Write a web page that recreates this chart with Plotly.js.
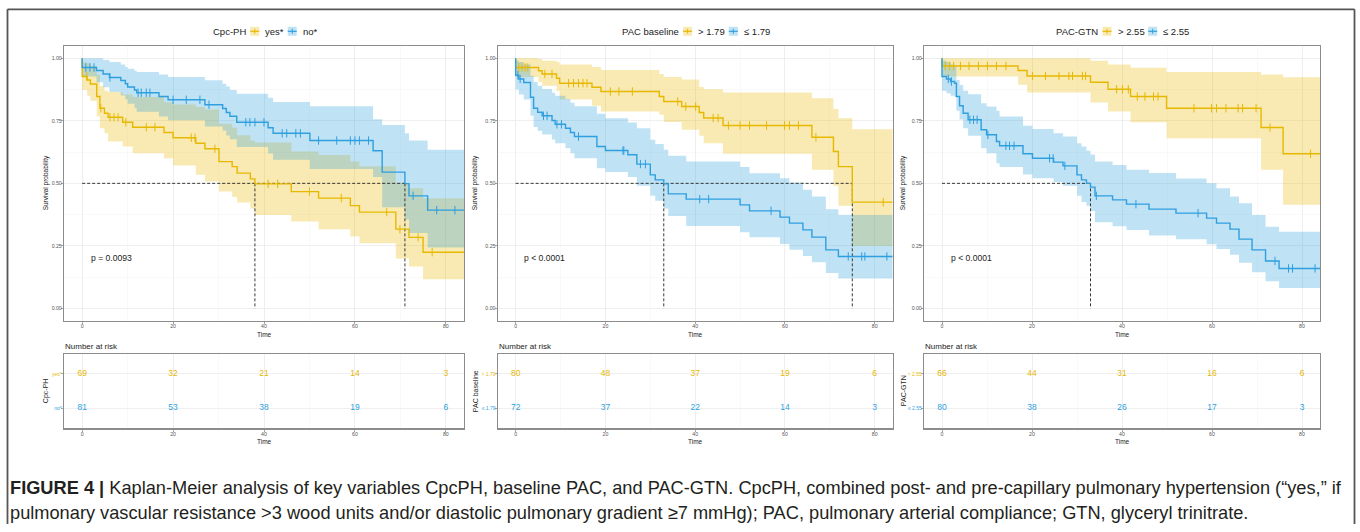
<!DOCTYPE html>
<html><head><meta charset="utf-8">
<script src="https://cdn.plot.ly/plotly-3.0.1.min.js"></script>
<style>html,body{margin:0;padding:0;background:#fff}#chart{width:1360px;height:532px}</style>
</head><body><div id="chart"></div>
<script>
// ---------------- DATA ----------------
const panelVars = ['Cpc-PH', 'PAC baseline', 'PAC-GTN'];
const groupLabels = [['yes*', 'no*'], ['> 1.79', '\u2264 1.79'], ['> 2.55', '\u2264 2.55']];
const pValues = ['p = 0.0093', 'p < 0.0001', 'p < 0.0001'];
const xTicks = [0, 20, 40, 60, 80];
const yTicks = [0, 0.25, 0.5, 0.75, 1];
const riskTimes = [0, 20, 40, 60, 80];

// Panel 1: Cpc-PH
const cpcYesTime  = [0, 0, 1.1, 1.8, 3.2, 3.9, 4.9, 5.7, 8.9, 11.1, 18, 20, 25, 27, 30.1, 33, 34.1, 37, 38, 46, 52, 59, 61, 69, 71.9, 75];
const cpcYesSurv  = [1, 0.927, 0.913, 0.897, 0.847, 0.800, 0.780, 0.764, 0.744, 0.724, 0.703, 0.682, 0.660, 0.638, 0.587, 0.567, 0.541, 0.518, 0.498, 0.467, 0.441, 0.411, 0.385, 0.317, 0.284, 0.225];
const cpcYesUpper = [1, 0.984, 0.980, 0.969, 0.935, 0.889, 0.870, 0.865, 0.855, 0.845, 0.824, 0.815, 0.805, 0.795, 0.738, 0.722, 0.692, 0.671, 0.663, 0.627, 0.613, 0.587, 0.568, 0.502, 0.480, 0.440];
const cpcYesLower = [1, 0.873, 0.850, 0.830, 0.767, 0.720, 0.700, 0.667, 0.647, 0.620, 0.600, 0.571, 0.534, 0.507, 0.467, 0.445, 0.423, 0.400, 0.374, 0.348, 0.317, 0.288, 0.261, 0.200, 0.168, 0.117];
const cpcYesCensor = [1, 4.1, 6.1, 7, 7.9, 9.6, 14.1, 16, 24, 24.8, 29.2, 40.9, 43, 50, 57, 67, 69.9, 73.9, 77];

const cpcNoTime  = [0, 0, 3.15, 4.6, 6, 8.5, 9.5, 10, 11.5, 12, 16.9, 18.9, 27, 30.9, 31.7, 32.5, 34, 40.9, 42, 50.1, 64, 66, 71, 71.9, 76];
const cpcNoSurv  = [1, 0.963, 0.951, 0.937, 0.923, 0.911, 0.898, 0.885, 0.873, 0.862, 0.847, 0.834, 0.814, 0.799, 0.783, 0.768, 0.744, 0.722, 0.700, 0.671, 0.630, 0.545, 0.499, 0.450, 0.393];
const cpcNoUpper = [1, 1, 1, 0.993, 0.985, 0.975, 0.965, 0.958, 0.950, 0.945, 0.935, 0.925, 0.912, 0.898, 0.887, 0.873, 0.858, 0.842, 0.825, 0.808, 0.756, 0.733, 0.700, 0.671, 0.634];
const cpcNoLower = [1, 0.927, 0.904, 0.884, 0.865, 0.851, 0.836, 0.818, 0.802, 0.786, 0.767, 0.752, 0.727, 0.711, 0.691, 0.676, 0.645, 0.619, 0.594, 0.557, 0.525, 0.405, 0.356, 0.302, 0.244];
const cpcNoCensor = [0.8, 1.7, 2.6, 6.1, 12.3, 13, 14.1, 14.9, 20, 22.9, 25.9, 27.9, 36, 36.9, 38, 40, 44, 45, 47, 48, 52, 56, 59, 60, 61, 63, 72.8, 78, 82];
const cpcMedians = [38, 71];
const cpcYesRisk = [69, 32, 21, 14, 3];
const cpcNoRisk  = [81, 53, 38, 19, 6];

// Panel 2: PAC baseline
const pacBaseHighTime  = [0, 0, 5.1, 5.9, 9.1, 9.8, 17, 19, 32, 33, 37, 40.9, 41.9, 46.2, 66, 70.8, 71.9, 75];
const pacBaseHighSurv  = [1, 0.963, 0.950, 0.937, 0.920, 0.900, 0.884, 0.867, 0.847, 0.827, 0.807, 0.783, 0.761, 0.731, 0.684, 0.627, 0.567, 0.425];
const pacBaseHighUpper = [1, 1, 0.997, 0.990, 0.985, 0.975, 0.965, 0.953, 0.937, 0.925, 0.915, 0.885, 0.876, 0.863, 0.840, 0.797, 0.760, 0.716];
const pacBaseHighLower = [1, 0.925, 0.905, 0.890, 0.870, 0.835, 0.810, 0.787, 0.774, 0.745, 0.714, 0.690, 0.660, 0.618, 0.554, 0.490, 0.410, 0.250];
const pacBaseHighCensor = [0.7, 1.4, 2.1, 2.7, 6.5, 8.1, 11.8, 12.9, 14, 15, 15.9, 21.1, 23, 26, 36.1, 37.9, 40.1, 44, 45.1, 47.4, 50, 52.1, 55.9, 59.9, 61, 63, 66.9, 81.9];

const pacBaseLowTime  = [0, 0, 0.7, 1.8, 3.3, 4, 4.9, 5.9, 8.1, 8.8, 11.1, 12.2, 13.1, 18.1, 20, 25, 27, 30, 31.1, 33, 34, 38, 50, 52.1, 58.9, 61, 64, 66, 69.1, 71.9];
const pacBaseLowSurv  = [1, 0.932, 0.917, 0.903, 0.844, 0.800, 0.784, 0.770, 0.751, 0.736, 0.720, 0.703, 0.687, 0.647, 0.631, 0.614, 0.577, 0.534, 0.514, 0.498, 0.458, 0.437, 0.414, 0.390, 0.365, 0.341, 0.314, 0.285, 0.234, 0.208];
const pacBaseLowUpper = [1, 0.990, 0.985, 0.975, 0.930, 0.905, 0.890, 0.877, 0.862, 0.850, 0.837, 0.822, 0.808, 0.778, 0.760, 0.743, 0.720, 0.674, 0.657, 0.634, 0.610, 0.587, 0.565, 0.540, 0.520, 0.503, 0.474, 0.447, 0.397, 0.374];
const pacBaseLowLower = [1, 0.875, 0.855, 0.835, 0.770, 0.725, 0.710, 0.695, 0.675, 0.660, 0.640, 0.620, 0.600, 0.560, 0.545, 0.525, 0.490, 0.450, 0.430, 0.400, 0.370, 0.330, 0.305, 0.285, 0.258, 0.235, 0.210, 0.185, 0.142, 0.120];
const pacBaseLowCensor = [0.5, 1.0, 6.2, 7.0, 9.2, 10.2, 14, 23.9, 24.1, 27.8, 28.9, 41, 43, 56.9, 74.1, 77.1, 77.8, 82.7];
const pacBaseMedians = [75, 33];
const pacBaseHighRisk = [80, 48, 37, 19, 6];
const pacBaseLowRisk  = [72, 37, 22, 14, 3];

// Panel 3: PAC-GTN
const pacGtnHighTime  = [0, 0, 16.9, 18.9, 33, 36.9, 41.9, 49.9, 70.9, 75.8];
const pacGtnHighSurv  = [1, 0.969, 0.951, 0.929, 0.904, 0.876, 0.847, 0.800, 0.723, 0.618];
const pacGtnHighUpper = [1, 1, 1, 1, 0.990, 0.975, 0.962, 0.945, 0.935, 0.924];
const pacGtnHighLower = [1, 0.927, 0.894, 0.863, 0.823, 0.787, 0.744, 0.680, 0.554, 0.414];
const pacGtnHighCensor = [0.7, 1.7, 2.6, 4.1, 6, 8.1, 10.1, 12.1, 14.2, 20.1, 23, 26, 28.2, 29, 31.2, 31.9, 38.8, 40.1, 41.4, 43.4, 45.1, 47, 48, 56, 59.9, 61, 63.1, 65.8, 66.8, 69.8, 72.9, 81.9];

const pacGtnLowTime  = [0, 0, 1, 1.9, 2.8, 3.2, 3.9, 4.7, 5.8, 8.7, 9.9, 12.1, 12.8, 18, 20.1, 24.8, 26.9, 30, 31, 32.1, 33, 34, 37.9, 41, 46, 52, 58.8, 61, 64, 66, 68.9, 71.9, 74.9];
const pacGtnLowSurv  = [1, 0.927, 0.917, 0.907, 0.900, 0.847, 0.810, 0.780, 0.754, 0.714, 0.694, 0.667, 0.650, 0.618, 0.600, 0.585, 0.570, 0.534, 0.514, 0.500, 0.485, 0.450, 0.434, 0.417, 0.397, 0.381, 0.361, 0.341, 0.317, 0.277, 0.234, 0.190, 0.160];
const pacGtnLowUpper = [1, 0.990, 0.985, 0.975, 0.967, 0.913, 0.893, 0.870, 0.856, 0.820, 0.807, 0.790, 0.767, 0.730, 0.717, 0.700, 0.687, 0.660, 0.647, 0.630, 0.615, 0.587, 0.573, 0.554, 0.541, 0.519, 0.500, 0.480, 0.447, 0.420, 0.374, 0.327, 0.307];
const pacGtnLowLower = [1, 0.870, 0.860, 0.850, 0.845, 0.790, 0.755, 0.720, 0.690, 0.640, 0.620, 0.580, 0.565, 0.535, 0.520, 0.505, 0.490, 0.450, 0.425, 0.410, 0.390, 0.345, 0.329, 0.314, 0.292, 0.277, 0.257, 0.238, 0.215, 0.183, 0.145, 0.109, 0.082];
const pacGtnLowCensor = [1.4, 2.1, 6.2, 7, 7.8, 10.2, 14.2, 15, 16, 23.9, 24.7, 27.3, 34.3, 43.1, 56.9, 74, 77, 77.9, 82.9];
const pacGtnMedians = [33];
const pacGtnHighRisk = [66, 44, 31, 16, 6];
const pacGtnLowRisk  = [80, 38, 26, 17, 3];

const captionLine1 = '<b>FIGURE 4 |</b> Kaplan-Meier analysis of key variables CpcPH, baseline PAC, and PAC-GTN. CpcPH, combined post- and pre-capillary pulmonary hypertension (\u201cyes,\u201d if';
const captionLine2 = 'pulmonary vascular resistance >3 wood units and/or diastolic pulmonary gradient \u22657 mmHg); PAC, pulmonary arterial compliance; GTN, glyceryl trinitrate.';

// ---------------- STYLE / LAYOUT ----------------
const FONT = '"Liberation Sans", Arial, sans-serif';
const YELLOW = '#E7B800', BLUE = '#2E9FDF';
const YELLOW_FILL = 'rgba(231,184,0,0.3)', BLUE_FILL = 'rgba(46,159,223,0.3)';
const W = 1360, H = 532;
const px = x => x / W;
const py = y => 1 - y / H;
const panelsX = [[64, 464], [497.7, 892.7], [924, 1320]];
const kmY = [45.7, 321];
const riskY = [354, 428.3];
const yTitleX = [46, 475, 903];
const X_END = 84;
const X_RANGE = [-4, 84];

const panels = [
  {curves: [
    {t: cpcYesTime, s: cpcYesSurv, u: cpcYesUpper, l: cpcYesLower, c: cpcYesCensor, color: YELLOW, fill: YELLOW_FILL},
    {t: cpcNoTime, s: cpcNoSurv, u: cpcNoUpper, l: cpcNoLower, c: cpcNoCensor, color: BLUE, fill: BLUE_FILL}],
   medians: cpcMedians, risk: [cpcYesRisk, cpcNoRisk]},
  {curves: [
    {t: pacBaseHighTime, s: pacBaseHighSurv, u: pacBaseHighUpper, l: pacBaseHighLower, c: pacBaseHighCensor, color: YELLOW, fill: YELLOW_FILL},
    {t: pacBaseLowTime, s: pacBaseLowSurv, u: pacBaseLowUpper, l: pacBaseLowLower, c: pacBaseLowCensor, color: BLUE, fill: BLUE_FILL}],
   medians: pacBaseMedians, risk: [pacBaseHighRisk, pacBaseLowRisk]},
  {curves: [
    {t: pacGtnHighTime, s: pacGtnHighSurv, u: pacGtnHighUpper, l: pacGtnHighLower, c: pacGtnHighCensor, color: YELLOW, fill: YELLOW_FILL},
    {t: pacGtnLowTime, s: pacGtnLowSurv, u: pacGtnLowUpper, l: pacGtnLowLower, c: pacGtnLowCensor, color: BLUE, fill: BLUE_FILL}],
   medians: pacGtnMedians, risk: [pacGtnHighRisk, pacGtnLowRisk]}
];

function stepValue(times, vals, t) {
  let v = vals[0];
  for (let i = 0; i < times.length; i++) { if (times[i] <= t) v = vals[i]; }
  return v;
}
const ext = (arr, last) => arr.concat([last]);

const traces = [];
const layout = {
  width: W, height: H, margin: {l: 0, r: 0, t: 0, b: 0},
  paper_bgcolor: '#fff', plot_bgcolor: '#fff', showlegend: false,
  font: {family: FONT, color: '#222'},
  annotations: [], shapes: []
};

const axisCommon = {
  showline: true, mirror: true, linecolor: '#8c8c8c', linewidth: 1.2,
  ticks: 'outside', ticklen: 2, tickwidth: 0.8, tickcolor: '#8c8c8c', ticklabelstandoff: -2,
  zeroline: false, showgrid: true, gridcolor: '#ebebeb', gridwidth: 0.8,
  tickfont: {size: 5.2, color: '#555', family: FONT}, fixedrange: true
};

panels.forEach((p, i) => {
  const s = i === 0 ? '' : String(i + 1);
  const rs = String(i + 4);
  const xa = 'x' + s, ya = 'y' + s, rxa = 'x' + rs, rya = 'y' + rs;
  // bands
  p.curves.forEach(c => {
    const tx = ext(c.t, X_END);
    traces.push({x: tx, y: ext(c.l, c.l[c.l.length - 1]), xaxis: xa, yaxis: ya, mode: 'lines',
      line: {width: 0, shape: 'hv', color: c.fill}, hoverinfo: 'skip'});
    traces.push({x: tx, y: ext(c.u, c.u[c.u.length - 1]), xaxis: xa, yaxis: ya, mode: 'lines',
      line: {width: 0, shape: 'hv', color: c.fill}, fill: 'tonexty', fillcolor: c.fill, hoverinfo: 'skip'});
  });
  // median lines
  const mx = Math.max(...p.medians);
  const dx = [0, mx], dy = [0.5, 0.5];
  p.medians.forEach(m => { dx.push(null, m, m); dy.push(null, 0.5, 0); });
  traces.push({x: dx, y: dy, xaxis: xa, yaxis: ya, mode: 'lines',
    line: {color: '#222', width: 0.9, dash: '3px,2px'}, hoverinfo: 'skip'});
  // curves + censor marks
  p.curves.forEach(c => {
    traces.push({x: ext(c.t, X_END), y: ext(c.s, c.s[c.s.length - 1]), xaxis: xa, yaxis: ya, mode: 'lines',
      line: {color: c.color, width: 1.4, shape: 'hv'}});
    traces.push({x: c.c, y: c.c.map(t => stepValue(c.t, c.s, t)), xaxis: xa, yaxis: ya, mode: 'markers',
      marker: {symbol: 'line-ns', size: 6, line: {color: c.color, width: 1}}});
  });
  // risk table
  p.curves.forEach((c, k) => {
    traces.push({x: riskTimes, y: riskTimes.map(() => 2 - k), xaxis: rxa, yaxis: rya, mode: 'text',
      text: p.risk[k].map(String), textposition: 'middle center',
      textfont: {size: 8.5, color: c.color, family: FONT}, hoverinfo: 'skip'});
  });

  const [x0, x1] = panelsX[i];
  layout['xaxis' + s] = Object.assign({}, axisCommon, {
    domain: [px(x0), px(x1)], anchor: ya, range: X_RANGE, tickvals: xTicks,
    minor: {dtick: 10, tick0: 0, showgrid: true, gridcolor: '#f3f3f3', gridwidth: 0.5, ticks: ''}});
  layout['yaxis' + s] = Object.assign({}, axisCommon, {
    domain: [py(kmY[1]), py(kmY[0])], anchor: xa, range: [-0.05, 1.05], tickvals: yTicks,
    ticktext: yTicks.map(v => v.toFixed(2)),
    minor: {tickmode: 'array', tickvals: [0.125, 0.375, 0.625, 0.875], showgrid: true, gridcolor: '#f3f3f3', gridwidth: 0.5, ticks: ''}});
  layout['xaxis' + rs] = Object.assign({}, axisCommon, {
    domain: [px(x0), px(x1)], anchor: rya, range: X_RANGE, tickvals: xTicks,
    minor: {dtick: 10, tick0: 0, showgrid: true, gridcolor: '#f3f3f3', gridwidth: 0.5, ticks: ''}});
  layout['yaxis' + rs] = Object.assign({}, axisCommon, {
    domain: [py(riskY[1]), py(riskY[0])], anchor: rxa, range: [0.42, 2.58], tickvals: [2, 1],
    ticktext: p.curves.map((c, k) => '<span style="color:' + c.color + '">' + groupLabels[i][k] + '</span>'),
    tickfont: {size: 5, family: FONT}});

  const cx = (x0 + x1) / 2;
  const ann = layout.annotations;
  // p-value
  ann.push({xref: xa, yref: ya, x: 1.7, y: 0.2, text: pValues[i], showarrow: false, xanchor: 'left',
    yanchor: 'middle', font: {size: 8.6, color: '#222'}, borderpad: 0});
  // axis titles
  ann.push({xref: 'paper', yref: 'paper', x: px(cx), y: py(334), text: 'Time', showarrow: false,
    xanchor: 'center', yanchor: 'middle', font: {size: 6.5, color: '#222'}, borderpad: 0});
  ann.push({xref: 'paper', yref: 'paper', x: px(cx), y: py(441), text: 'Time', showarrow: false,
    xanchor: 'center', yanchor: 'middle', font: {size: 6.5, color: '#222'}, borderpad: 0});
  ann.push({xref: 'paper', yref: 'paper', x: px(yTitleX[i]), y: py((kmY[0] + kmY[1]) / 2), text: 'Survival probability',
    textangle: -90, showarrow: false, xanchor: 'center', yanchor: 'middle', font: {size: 6.5, color: '#222'}, borderpad: 0});
  ann.push({xref: 'paper', yref: 'paper', x: px(yTitleX[i]), y: py((riskY[0] + riskY[1]) / 2), text: panelVars[i],
    textangle: -90, showarrow: false, xanchor: 'center', yanchor: 'middle', font: {size: 7, color: '#222'}, borderpad: 0});
  ann.push({xref: 'paper', yref: 'paper', x: px(x0), y: py(346.7), text: 'Number at risk', showarrow: false,
    xanchor: 'left', yanchor: 'middle', font: {size: 8, color: '#222'}, borderpad: 0});
});

// ---- legends (manual, centred over each panel) ----
const cv = document.createElement('canvas').getContext('2d');
function measure(text, size, bold) {
  cv.font = (bold ? 'bold ' : '') + size + 'px "Liberation Sans"';
  return cv.measureText(text).width;
}
const LEG_SIZE = 9.5, KEY = 9, GAP = 5, LEG_Y = 31.3;
panels.forEach((p, i) => {
  const [x0, x1] = panelsX[i];
  const items = [{text: panelVars[i]}, {key: p.curves[0]}, {text: groupLabels[i][0]}, {key: p.curves[1]}, {text: groupLabels[i][1]}];
  items.forEach(it => { it.w = it.text !== undefined ? measure(it.text, LEG_SIZE) : KEY; });
  const total = items.reduce((a, it) => a + it.w, 0) + GAP * (items.length - 1);
  let x = (x0 + x1) / 2 - total / 2;
  items.forEach(it => {
    if (it.text !== undefined) {
      layout.annotations.push({xref: 'paper', yref: 'paper', x: px(x), y: py(LEG_Y), text: it.text, showarrow: false,
        xanchor: 'left', yanchor: 'middle', font: {size: LEG_SIZE, color: '#222'}, borderpad: 0});
    } else {
      const c = it.key;
      layout.shapes.push({type: 'rect', xref: 'paper', yref: 'paper', x0: px(x), x1: px(x + KEY),
        y0: py(LEG_Y + 4.5), y1: py(LEG_Y - 4.5), fillcolor: c.fill, line: {width: 0}});
      layout.shapes.push({type: 'line', xref: 'paper', yref: 'paper', x0: px(x), x1: px(x + KEY),
        y0: py(LEG_Y), y1: py(LEG_Y), line: {color: c.color, width: 1.2}});
      layout.shapes.push({type: 'line', xref: 'paper', yref: 'paper', x0: px(x + KEY / 2), x1: px(x + KEY / 2),
        y0: py(LEG_Y - 2.5), y1: py(LEG_Y + 2.5), line: {color: c.color, width: 1}});
    }
    x += it.w + GAP;
  });
});

// ---- caption ----
const plain1 = captionLine1.replace(/<[^>]+>/g, '');
const boldPart = 'FIGURE 4 |';
const w16 = measure(boldPart, 16, true) + measure(plain1.slice(boldPart.length), 16, false);
const capSize = 16 * 1331 / w16;
layout.annotations.push({xref: 'paper', yref: 'paper', x: px(9), y: py(488), text: captionLine1, showarrow: false,
  xanchor: 'left', yanchor: 'middle', font: {size: capSize, color: '#231f20'}, borderpad: 0});
layout.annotations.push({xref: 'paper', yref: 'paper', x: px(9), y: py(513), text: captionLine2, showarrow: false,
  xanchor: 'left', yanchor: 'middle', font: {size: capSize, color: '#231f20'}, borderpad: 0});

// ---- outer frame ----
const frame = {color: '#555', width: 1.8};
layout.shapes.push({type: 'line', xref: 'paper', yref: 'paper', x0: px(7.5), x1: px(1354.5), y0: py(9.3), y1: py(9.3), line: frame});
layout.shapes.push({type: 'line', xref: 'paper', yref: 'paper', x0: px(7.5), x1: px(7.5), y0: py(9.3), y1: py(524), line: frame});
layout.shapes.push({type: 'line', xref: 'paper', yref: 'paper', x0: px(1354.5), x1: px(1354.5), y0: py(9.3), y1: py(524), line: frame});

Plotly.newPlot('chart', traces, layout, {displayModeBar: false, staticPlot: true});
</script>
</body></html>
